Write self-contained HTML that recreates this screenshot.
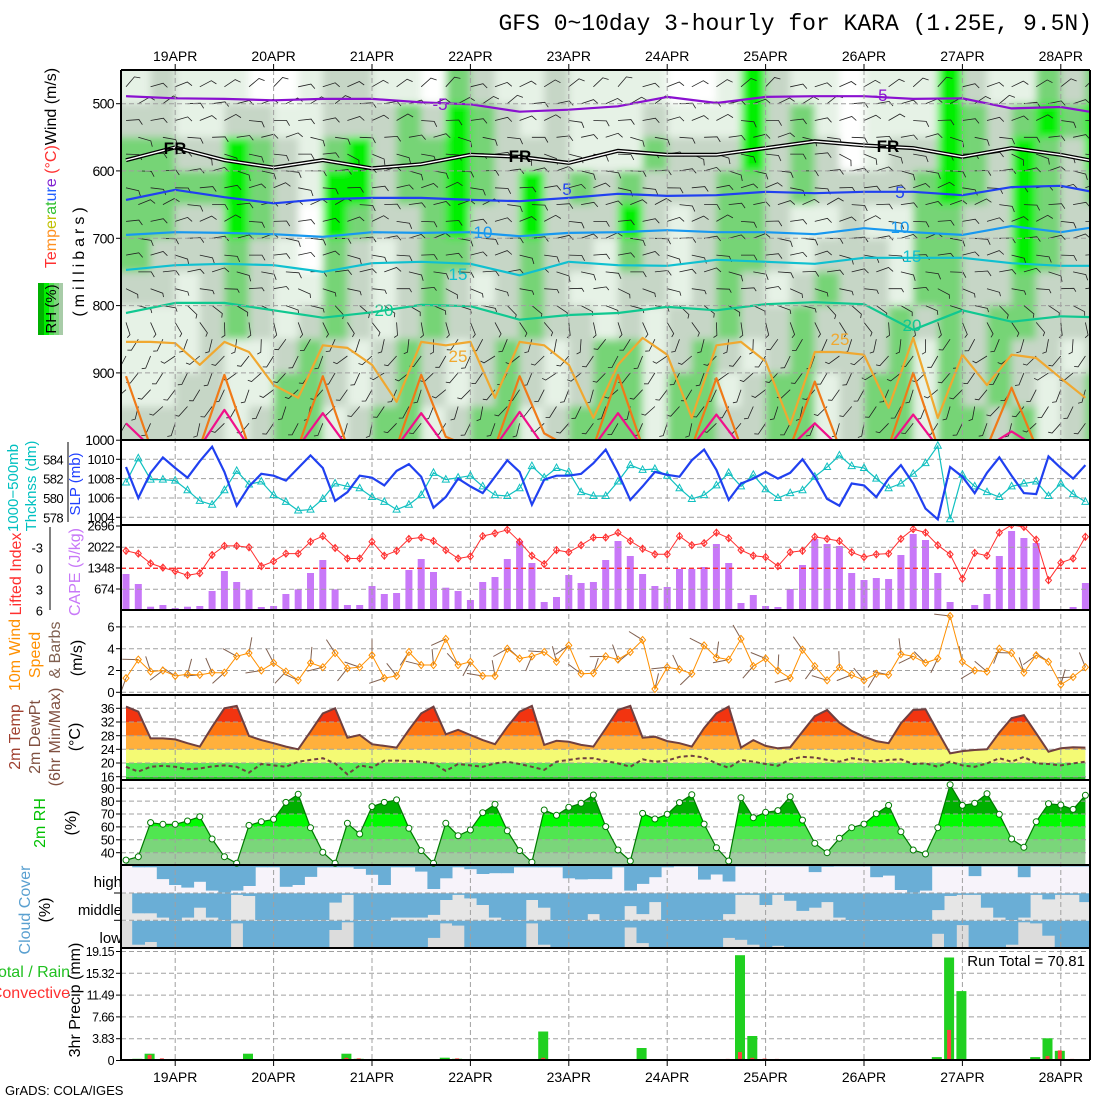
<!DOCTYPE html>
<html><head><meta charset="utf-8"><title>GFS meteogram KARA</title>
<style>
html,body{margin:0;padding:0;background:#fff;}
svg{display:block;font-family:"Liberation Sans",sans-serif;}
</style></head>
<body>
<svg id="chart" width="1100" height="1100" viewBox="0 0 1100 1100" xmlns="http://www.w3.org/2000/svg">
<defs>
 <clipPath id="cTop"><rect x="121" y="70" width="969" height="370"/></clipPath>
 <clipPath id="cSlp"><rect x="121" y="440" width="969" height="85"/></clipPath>
 <clipPath id="cCape"><rect x="121" y="525" width="969" height="85"/></clipPath>
 <clipPath id="cWind"><rect x="121" y="610" width="969" height="85"/></clipPath>
 <clipPath id="cCloud"><rect x="121" y="865" width="969" height="83"/></clipPath>
 <filter id="soft" x="-2%" y="-2%" width="104%" height="104%"><feGaussianBlur stdDeviation="4"/></filter>
</defs>
<rect x="0" y="0" width="1100" height="1100" fill="#fff"/>
<text x="1092" y="30" text-anchor="end" font-family="'Liberation Mono',monospace" font-size="23" fill="#000">GFS 0~10day 3-hourly for KARA (1.25E, 9.5N)</text>

<g id="gTop" clip-path="url(#cTop)"></g>
<g id="gMid"></g>
<g id="gGrid"></g>
<g id="gFront"></g>
<g id="gAxes"></g>

<g>
 <g>
  <rect x="38" y="283" width="6" height="52" fill="#00b000"/>
  <rect x="44" y="283" width="5" height="52" fill="#00f000"/>
  <rect x="49" y="283" width="5" height="52" fill="#50e050"/>
  <rect x="54" y="283" width="5" height="52" fill="#7cd67c"/>
  <rect x="59" y="283" width="4" height="52" fill="#a8cca8"/>
 </g>
 <text transform="translate(56,309) rotate(-90)" text-anchor="middle" font-size="15" fill="#000">RH (%)</text>
 <text transform="translate(56,168) rotate(-90)" text-anchor="middle" font-size="16"><tspan fill="#ff3030">Te</tspan><tspan fill="#ff9020">mp</tspan><tspan fill="#c0c000">er</tspan><tspan fill="#30c030">at</tspan><tspan fill="#2060ff">ur</tspan><tspan fill="#8020d0">e</tspan><tspan fill="#ff3030"> (°C)</tspan><tspan fill="#000">Wind (m/s)</tspan></text>
 <text transform="translate(84,260) rotate(-90)" text-anchor="middle" font-size="16" letter-spacing="4" fill="#000">(millibars)</text>
</g>
<g>
 <text transform="translate(18,488) rotate(-90)" text-anchor="middle" font-size="15" fill="#00c0c0">1000−500mb</text>
 <text transform="translate(36,486) rotate(-90)" text-anchor="middle" font-size="15" fill="#00c0c0">Thcknss (dm)</text>
 <text transform="translate(80,484) rotate(-90)" text-anchor="middle" font-size="15" fill="#2040ff">SLP (mb)</text>
</g>
<g>
 <text transform="translate(21,574) rotate(-90)" text-anchor="middle" font-size="16" fill="#ff3030">Lifted Index</text>
 <text transform="translate(80,572) rotate(-90)" text-anchor="middle" font-size="16" fill="#c878f8">CAPE (J/kg)</text>
</g>
<g>
 <text transform="translate(20,655) rotate(-90)" text-anchor="middle" font-size="16" fill="#ff9000">10m Wind</text>
 <text transform="translate(40,655) rotate(-90)" text-anchor="middle" font-size="16" fill="#ff9000">Speed</text>
 <text transform="translate(60,650) rotate(-90)" text-anchor="middle" font-size="16" fill="#806050">&amp; Barbs</text>
 <text transform="translate(82,658) rotate(-90)" text-anchor="middle" font-size="16" fill="#000">(m/s)</text>
</g>
<g>
 <text transform="translate(20,737) rotate(-90)" text-anchor="middle" font-size="16" fill="#a04030">2m Temp</text>
 <text transform="translate(40,737) rotate(-90)" text-anchor="middle" font-size="16" fill="#805040">2m DewPt</text>
 <text transform="translate(60,737) rotate(-90)" text-anchor="middle" font-size="16" fill="#805040">(6hr Min/Max)</text>
 <text transform="translate(80,737) rotate(-90)" text-anchor="middle" font-size="16" fill="#000">(°C)</text>
</g>
<g>
 <text transform="translate(45,823) rotate(-90)" text-anchor="middle" font-size="16" fill="#00c000">2m RH</text>
 <text transform="translate(76,823) rotate(-90)" text-anchor="middle" font-size="16" fill="#000">(%)</text>
</g>
<g>
 <text transform="translate(30,910) rotate(-90)" text-anchor="middle" font-size="16" fill="#5aa0d0">Cloud Cover</text>
 <text transform="translate(50,910) rotate(-90)" text-anchor="middle" font-size="16" fill="#000">(%)</text>
 <text x="122" y="887" text-anchor="end" font-size="15">high</text>
 <text x="122" y="915" text-anchor="end" font-size="15">middle</text>
 <text x="122" y="943" text-anchor="end" font-size="15">low</text>
</g>
<g>
 <text x="70" y="977" text-anchor="end" font-size="16" fill="#20c020">Total / Rain</text>
 <text x="70" y="998" text-anchor="end" font-size="16" fill="#ff3030">Convective</text>
 <text transform="translate(80,1000) rotate(-90)" text-anchor="middle" font-size="16" fill="#000">3hr Precip (mm)</text>
 <text x="1085" y="966" text-anchor="end" font-size="15" fill="#000">Run Total = 70.81</text>
</g>
<text x="5" y="1095" font-size="13" fill="#000">GrADS: COLA/IGES</text>
</svg>

<script>
// ---------- data (3-hourly, from 18APR 12Z) ----------
const dayLabels = ["19APR","20APR","21APR","22APR","23APR","24APR","25APR","26APR","27APR","28APR"];
const slp = [1009.2,1006.0,1008.6,1010.2,1009.1,1008.1,1009.8,1011.3,1008.7,1005.2,1007.2,1008.5,1008.3,1007.8,1009.1,1010.4,1009.1,1005.7,1006.6,1008.3,1008.1,1007.3,1008.8,1009.5,1008.2,1005.0,1006.1,1008.0,1007.2,1006.5,1008.2,1009.9,1008.7,1005.3,1007.9,1008.3,1008.3,1008.5,1009.6,1011.0,1008.6,1005.8,1007.2,1008.7,1008.4,1008.2,1009.9,1011.0,1008.9,1005.8,1007.5,1008.0,1008.7,1008.0,1008.6,1010.0,1008.2,1005.9,1005.2,1007.5,1007.3,1006.1,1008.0,1009.4,1007.5,1004.9,1003.8,1009.2,1008.2,1006.5,1008.6,1010.2,1008.3,1006.5,1006.4,1010.3,1009.1,1008.0,1009.4];
const thickness = [581.6,584.1,581.9,581.9,581.8,580.8,579.7,579.3,580.8,582.8,581.4,581.7,580.3,579.6,578.7,578.8,579.9,581.5,581.2,581.0,580.1,579.6,578.8,579.3,580.3,582.6,581.9,582.1,582.3,581.2,580.3,580.2,581.0,583.3,582.1,583.1,582.7,580.6,580.2,580.2,581.7,583.4,582.9,583.0,582.3,581.0,579.9,580.3,581.3,582.6,581.2,582.4,580.9,580.0,580.5,580.8,582.2,583.2,584.4,583.3,583.1,582.0,581.0,581.5,582.5,583.6,585.4,577.8,582.4,581.2,580.6,580.1,581.2,581.5,581.7,580.2,581.5,580.4,579.6];
const cape = [1156,835,107,160,64,107,128,610,1252,899,653,96,128,514,663,1188,1605,663,160,160,770,514,546,1284,1637,1220,717,610,321,899,1059,1637,2215,1509,257,417,1124,867,899,1605,2215,1733,1156,770,738,1316,1316,1380,2119,1509,225,482,128,96,674,1445,2279,2119,2054,1188,963,1027,995,1766,2440,2247,1188,257,0,160,514,1733,2536,2311,2151,0,32,96,867];
const liftedIndex = [-2.5,-2.1,-0.7,-0.1,0.4,1.0,0.7,-1.9,-3.2,-3.2,-3.0,-0.3,-1.0,-2.1,-2.1,-3.8,-4.6,-2.9,-1.4,-1.4,-3.8,-1.8,-2.5,-4.2,-4.4,-3.9,-2.6,-1.4,-1.7,-4.6,-5.0,-5.5,-3.8,-1.8,-0.6,-2.6,-2.3,-3.3,-4.4,-4.4,-5.1,-3.9,-2.8,-2.0,-2.0,-4.6,-3.3,-3.6,-5.1,-4.3,-2.6,-1.8,-1.6,-0.3,-2.3,-2.5,-4.5,-4.2,-3.9,-2.3,-1.6,-2.0,-2.1,-4.2,-5.6,-5.1,-3.3,-2.0,1.5,-2.2,-1.8,-5.1,-6.2,-5.9,-4.1,1.7,-0.8,-1.4,-4.5];
const windSpeed = [1.3,3.0,1.9,2.0,1.5,1.65,1.6,1.8,1.8,3.3,3.6,2.0,2.7,1.9,1.1,2.7,2.3,3.6,2.2,2.3,3.4,1.3,1.5,3.7,2.5,2.5,4.9,2.5,2.8,1.5,1.5,4.0,3.1,3.3,3.7,2.8,4.3,1.7,1.75,3.3,3.0,3.7,4.8,0.3,2.3,2.1,1.7,4.3,3.2,3.0,4.9,2.4,3.1,2.0,1.3,3.9,2.4,1.1,2.3,1.6,1.1,1.7,1.6,3.5,3.3,2.7,3.1,7.0,2.8,2.0,1.9,4.0,3.6,1.8,3.4,2.8,0.7,1.4,2.3];
const temp2m = [36.5,35.0,27.2,27.2,26.9,25.8,24.8,30.6,36.0,36.7,27.9,26.7,25.8,24.8,24.0,29.2,34.5,36.0,27.4,28.2,25.5,25.0,24.5,29.7,34.5,36.5,28.4,29.7,28.2,26.7,25.5,30.6,35.0,36.7,25.3,26.5,26.2,25.3,24.8,30.1,35.5,36.7,27.4,27.7,26.4,25.8,24.8,30.2,34.5,36.5,24.5,26.7,25.0,24.3,24.6,29.2,33.7,35.5,31.8,29.4,27.7,26.4,25.8,31.6,35.5,35.7,29.2,22.8,23.5,23.8,24.0,28.9,33.1,34.0,28.7,23.3,24.3,24.6,24.5];
const dewpt2m = [18.9,17.5,18.9,19.2,18.9,18.2,18.4,19.0,19.3,18.9,17.2,19.7,19.3,18.9,20.4,20.9,21.4,19.9,16.7,19.3,18.7,20.7,20.7,20.6,20.4,19.9,17.7,19.7,19.3,18.9,19.9,20.4,19.7,18.9,18.0,20.4,20.9,21.4,21.4,20.6,19.9,18.9,21.1,20.4,20.7,21.8,22.1,21.6,19.9,18.6,20.9,20.4,19.7,19.2,21.1,21.8,21.6,20.9,20.4,21.4,20.9,20.4,20.9,21.1,19.7,19.9,18.9,20.4,19.3,18.9,19.9,21.4,20.4,21.8,19.9,19.7,19.3,19.9,20.4];
const rh2m = [34.3,36.9,63.3,62.0,62.0,64.6,67.9,50.6,36.9,31.8,61.2,64.0,65.9,79.0,85.3,59.4,40.3,31.8,62.8,54.5,75.7,79.0,80.9,58.9,41.6,31.8,62.8,53.2,57.6,71.0,77.5,57.0,41.6,32.6,73.1,69.0,75.2,78.3,84.7,60.2,42.1,33.6,70.5,66.1,69.8,78.8,85.0,62.2,43.9,33.6,82.6,67.1,71.3,72.6,83.4,65.3,47.3,40.0,51.2,59.4,62.2,70.2,76.7,56.3,42.1,39.0,59.4,92.7,76.7,78.3,85.7,69.8,50.6,44.2,64.0,78.0,77.0,73.6,84.5];
const cloudHigh = [0,5,5,49,71,81,59,92,100,92,75,5,5,78,71,41,5,5,5,11,33,71,5,5,21,86,46,5,12,30,27,27,5,5,5,5,46,50,49,49,5,92,67,42,5,2,2,51,32,58,2,2,2,2,2,2,23,3,2,2,2,42,36,90,100,92,2,2,2,38,2,2,2,42,2,2,2,2,2];
const cloudMid = [0,75,75,91,100,91,54,91,100,6,10,100,100,100,100,100,100,35,6,100,100,100,91,91,91,81,25,6,19,44,91,100,100,25,54,100,100,100,78,100,100,48,78,33,100,100,100,100,100,78,6,6,44,6,28,66,54,33,91,100,100,100,100,100,100,100,63,10,6,6,54,91,100,91,6,23,6,6,33];
const cloudLow = [0,88,78,100,100,100,100,100,100,10,100,100,100,100,100,100,100,34,6,100,100,100,100,100,100,63,10,18,100,100,100,100,100,10,88,100,100,100,100,100,100,25,82,100,100,100,100,100,100,63,70,88,100,92,100,100,100,100,100,100,100,100,100,100,100,100,48,100,16,100,100,100,88,6,10,55,100,100,100];
const precipIndex = [1,2,3,10,18,19,26,27,34,42,43,49,50,51,52,53,60,62,66,67,68,73,74,75,76,77];
const precipTotal = [0.3,1.2,0.2,1.2,1.2,0.3,0.5,0.3,5.1,2.2,0.2,0.1,18.5,4.3,0.15,0.1,0.1,0,0.6,18.1,12.2,0,0.6,3.9,1.7,0];
const precipConv = [0,0.8,0.2,0,0.3,0.2,0,0.2,0.3,0,0,0.1,1.3,0.3,0.15,0.1,0,0.05,0.1,5.2,0.1,0.05,0.1,0.6,1.6,0.1];
const rhLevels = [475,525,575,625,675,725,775,825,875,925,975];
const rhRows = [
 "1211100122110321121111001421101114211323",
 "2211221122232432121112111423101114323434",
 "3322432134233432221113222423201224324324",
 "3333432144233432423232223323222234324323",
 "3322432043223422422242123321121133224322",
 "3222321032123322322132123321222133224322",
 "2212321132123212321122123212322133223222",
 "1112321232123222322121223223222323233222",
 "1112112321232123212331232123222313232212",
 "1122113321232123212331331233123313232123",
 "2222123312331233123331332233123313323123"];
const isoM5 = [489,492,493,495,493,493,498,501,512,509,504,490,499,490,489,489,493,492,507,505,517];
const isoFR = [584,565,584,595,584,596,590,576,579,588,570,576,576,566,556,562,566,579,566,576,590];
const iso5 = [643,628,639,648,642,640,640,643,645,640,634,637,636,631,633,631,631,636,624,622,636];
const iso10 = [695,691,692,694,698,691,692,691,697,692,691,688,691,691,694,685,691,695,682,691,680];
const iso15 = [747,740,738,740,750,737,735,738,755,735,740,741,732,735,738,729,729,729,737,741,741];
const iso20 = [811,796,796,807,818,810,799,801,821,814,811,802,807,798,795,798,836,807,824,816,818];
const iso25 = [854,854,856,888,854,869,918,937,859,863,888,943,854,859,854,937,854,859,888,967,888,848,873,967,859,854,883,977,869,869,873,952,848,967,873,918,873,878,908,937];
const iso30 = [905,1010,1010,1010,903,1010,1010,1010,905,1010,1010,1010,903,995,1010,1010,905,990,1010,1010,903,1010,1010,1010,908,1010,1010,1010,913,1010,1010,1010,900,1010,1010,1010,922,1010,1010,1010];
const iso35 = [975,1010,1010,1010,955,1010,1010,1010,960,1010,1010,1010,960,1010,1010,1010,958,1010,1010,1010,960,1010,1010,1010,962,1010,1010,1010,975,1010,1010,1010,962,1010,1010,1010,987,1010,1010,1010];
const barbLevels = [475,500,525,550,575,600,625,650,675,700,725,750,775,800,825,850,875,900,925,950,975];
const barbDir = [60,70,80,90,100,90,85,80,80,85,90,90,100,120,160,200,220,220,215,210,210];
const barbSpd = [8,8,7,7,8,8,9,9,9,8,8,7,6,6,5,5,6,6,5,5,4];
const pTicks = [500,600,700,800,900,1000];
const slpTicks = [1010,1008,1006,1004];
const thkTicks = [584,582,580,578];
const capeTicks = [2696,2022,1348,674];
const liTicks = [-3,0,3,6];
const windTicks = [0,2,4,6];
const tempTicks = [36,32,28,24,20,16];
const rhTicks = [90,80,70,60,50,40];
const precipTicks = [19.15,15.32,11.49,7.66,3.83,0];

const NS = "http://www.w3.org/2000/svg";
const X0 = 126, DX = 12.3, XL = 121, XR = 1090;
function xAt(i){ return X0 + DX*i; }
function xHour(h){ return X0 + h*DX/3; }
function yP(p){ return 70 + (p-450)*0.673; }
function ySlp(v){ return 459.3 - (v-1010)*9.67; }
function yThk(v){ return 459.3 - (v-584)*9.67; }
function yCape(v){ return 610 - v*21/674; }
function yLI(v){ return 568.3 + v*7; }
function yWind(v){ return 692.3 - v*10.9; }
function yT(v){ return 776.7 - (v-16)*3.42; }
function yRH(v){ return 852.7 - (v-40)*1.29; }
function yPr(v){ return 1060.5 - v*5.69; }

function mk(tag, attrs, parent){
  const e = document.createElementNS(NS, tag);
  for (const k in attrs) e.setAttribute(k, attrs[k]);
  parent.appendChild(e);
  return e;
}
function pts(arr, fx, fy){ return arr.map((v,i)=>fx(i).toFixed(1)+","+fy(v).toFixed(1)).join(" "); }

const defs = document.querySelector("#chart defs");
const gTop = document.getElementById("gTop");
const gMid = document.getElementById("gMid");
const gGrid = document.getElementById("gGrid");
const gFront = document.getElementById("gFront");
const gAxes = document.getElementById("gAxes");

// ---------- top cross-section ----------
const rhColors = ["#ffffff","#e6f2e6","#c6d6c6","#76d476","#00f000"];
const heat = mk("g", {filter:"url(#soft)"}, gTop);


rhRows.forEach((row, r)=>{
  const y0 = yP(rhLevels[r]-25), y1 = yP(rhLevels[r]+25);
  for (let j=0;j<row.length;j++){
    const xa = j===0 ? XL-10 : xHour(6*j), xb = xHour(6*(j+1)) + (j===row.length-1?30:0);
    const c = mk("rect", {x:xa.toFixed(1), y:(y0-(r===0?20:0)).toFixed(1), width:(xb-xa+0.6).toFixed(1), height:(y1-y0+(r===0?20:0)+(r===rhRows.length-1?10:0)+0.6).toFixed(1), fill:rhColors[+row[j]]}, heat);
    
    
  }
});
const barbG = mk("g", {stroke:"#222", "stroke-width":"0.8", fill:"none"}, gTop);


barbLevels.forEach((p, r)=>{
  for (let i=0;i<79;i++){
    if ((i + r) % 2 !== 0) continue;
    const d = (barbDir[r] + ((i*37 + r*53) % 40) - 20) * Math.PI/180;
    const L = 13, x = xAt(i), y = yP(p);
    const ex = x + L*Math.sin(d), ey = y - L*Math.cos(d);
    const td = d + Math.PI/3, tl = barbSpd[r] >= 7 ? 6 : 4;
    const b = mk("path", {d:"M"+x.toFixed(1)+","+y.toFixed(1)+"L"+ex.toFixed(1)+","+ey.toFixed(1)+"l"+(tl*Math.sin(td)).toFixed(1)+","+(-tl*Math.cos(td)).toFixed(1)}, barbG);
    
    
  }
});
function isoLine(arr, stepH, color, width, name){
  const d = pts(arr, i=>xHour(stepH*i), yP);
  if (name === 'isotherm-0c') {
    const o = mk("polyline", {points:d, fill:"none", stroke:"#000", "stroke-width":"4"}, gTop);
    
    
    const w = mk("polyline", {points:d, fill:"none", stroke:"#fff", "stroke-width":"1.4"}, gTop);
    
    
    return;
  }
  const l = mk("polyline", {points:d, fill:"none", stroke:color, "stroke-width":width, "stroke-linejoin":"round"}, gTop);
  
  
}
isoLine(iso35, 6, "#f0108a", 2.2, "isotherm-35c");
isoLine(iso30, 6, "#f07a18", 2.2, "isotherm-30c");
isoLine(iso25, 6, "#f0a830", 2.2, "isotherm-25c");
isoLine(iso20, 12, "#10c890", 2.2, "isotherm-20c");
isoLine(iso15, 12, "#10c0d0", 2.2, "isotherm-15c");
isoLine(iso10, 12, "#1898f0", 2.2, "isotherm-10c");
isoLine(iso5, 12, "#2040f0", 2.2, "isotherm-5c");
isoLine(isoFR, 12, "#000", 2, "isotherm-0c");
isoLine(isoM5, 12, "#8a10d0", 2.2, "isotherm-minus5c");
const isoLabels = [["-5",440,110,"#8a10d0"],["-5",880,101,"#8a10d0"],["FR",175,154,"#000"],["FR",520,162,"#000"],["FR",888,152,"#000"],["5",567,195,"#2040f0"],["5",900,198,"#2040f0"],["10",483,238,"#1898f0"],["10",900,233,"#1898f0"],["15",458,280,"#10c0d0"],["15",912,262,"#10c0d0"],["20",384,316,"#10c890"],["20",912,331,"#10c890"],["25",458,362,"#f0a830"],["25",840,345,"#f0a830"]];
isoLabels.forEach(l=>{
  const t = mk("text", {x:l[1], y:l[2], "text-anchor":"middle", "font-size":"17", fill:l[3], "font-weight":l[0]==="FR"?"bold":"normal"}, gTop);
  t.textContent = l[0];
  
  
});

// ---------- SLP panel ----------
const thkLine = mk("polyline", {points:pts(thickness, xAt, yThk), fill:"none", stroke:"#10c0c0", "stroke-width":"1.2"}, gFront);


thickness.forEach((v,i)=>{
  const x = xAt(i), y = yThk(v);
  const m = mk("path", {d:"M"+x+","+(y-4)+"L"+(x+3.5)+","+(y+2.5)+"L"+(x-3.5)+","+(y+2.5)+"Z", fill:"none", stroke:"#10c0c0", "stroke-width":"1"}, gFront);
  
  
});
const slpLine = mk("polyline", {points:pts(slp, xAt, ySlp), fill:"none", stroke:"#2040f0", "stroke-width":"2.2"}, gFront);



// ---------- CAPE / LI ----------
cape.forEach((v,i)=>{
  const y = yCape(v);
  const b = mk("rect", {x:(xAt(i)-3.5).toFixed(1), y:y.toFixed(1), width:"7", height:(610-y).toFixed(1), fill:"#c878f8"}, gMid);
  
  
});
const li0 = mk("line", {x1:XL, x2:XR, y1:yLI(0), y2:yLI(0), stroke:"#ff3030", "stroke-width":"1.3", "stroke-dasharray":"5,3"}, gFront);


const liG = mk("g", {"clip-path":"url(#cCape)"}, gFront);


const liLine = mk("polyline", {points:pts(liftedIndex, xAt, yLI), fill:"none", stroke:"#ff3030", "stroke-width":"1"}, liG);


liftedIndex.forEach((v,i)=>{
  const x = xAt(i), y = yLI(v);
  const m = mk("path", {d:"M"+x+","+(y-3.5)+"L"+(x+3)+","+y+"L"+x+","+(y+3.5)+"L"+(x-3)+","+y+"ZM"+x+","+(y-3.5)+"V"+(y+3.5), fill:"none", stroke:"#ff3030", "stroke-width":"1"}, liG);
  
  
});

// ---------- 10m wind ----------
const wG = mk("g", {"clip-path":"url(#cWind)"}, gFront);


windSpeed.forEach((v,i)=>{
  const x = xAt(i), y = yWind(v);
  const d = ((i*71) % 180 + 200) * Math.PI/180;
  const b = mk("line", {x1:x, y1:y, x2:(x+16*Math.sin(d)).toFixed(1), y2:(y-16*Math.cos(d)).toFixed(1), stroke:"#806050", "stroke-width":"1"}, wG);
  
  
});
const wLine = mk("polyline", {points:pts(windSpeed, xAt, yWind), fill:"none", stroke:"#ff9000", "stroke-width":"1"}, wG);


windSpeed.forEach((v,i)=>{
  const x = xAt(i), y = yWind(v);
  const m = mk("path", {d:"M"+x+","+(y-3.5)+"L"+(x+3)+","+y+"L"+x+","+(y+3.5)+"L"+(x-3)+","+y+"Z", fill:"none", stroke:"#ff9000", "stroke-width":"1"}, wG);
  
  
});

// ---------- temperature ----------
const tArea = "M" + xAt(0) + ",780 L" + pts(temp2m, xAt, yT).split(" ").join(" L") + " L" + xAt(78) + ",780 Z";
const cTemp = mk("clipPath", {id:"cTemp"}, defs);
mk("path", {d:tArea}, cTemp);
const tBands = [[-99,16,"#20c020"],[16,20,"#52ee52"],[20,24,"#f4fa74"],[24,28,"#ffb03c"],[28,32,"#ff7410"],[32,99,"#f23410"]];
const tG = mk("g", {"clip-path":"url(#cTemp)"}, gMid);


tBands.forEach(b=>{
  const y1 = Math.min(780, yT(b[0])), y0 = Math.max(695, yT(b[1]));
  const r = mk("rect", {x:XL, y:y0.toFixed(1), width:XR-XL, height:(y1-y0).toFixed(1), fill:b[2]}, tG);
  
  
});
const tLine = mk("polyline", {points:pts(temp2m, xAt, yT), fill:"none", stroke:"#704040", "stroke-width":"2"}, gFront);


const dLine = mk("polyline", {points:pts(dewpt2m, xAt, yT), fill:"none", stroke:"#704040", "stroke-width":"2", "stroke-dasharray":"4,3"}, gFront);



// ---------- 2m RH ----------
const rArea = "M" + xAt(0) + ",865 L" + pts(rh2m, xAt, yRH).split(" ").join(" L") + " L" + xAt(78) + ",865 Z";
const cRH = mk("clipPath", {id:"cRH"}, defs);
mk("path", {d:rArea}, cRH);
const rhBands = [[0,40,"#a0cca0"],[40,50,"#7ad67a"],[50,60,"#50e650"],[60,70,"#00fa00"],[70,101,"#00b000"]];
const rG = mk("g", {"clip-path":"url(#cRH)"}, gMid);


rhBands.forEach(b=>{
  const y1 = Math.min(865, yRH(b[0])), y0 = Math.max(780, yRH(b[1]));
  const r = mk("rect", {x:XL, y:y0.toFixed(1), width:XR-XL, height:(y1-y0).toFixed(1), fill:b[2]}, rG);
  
  
});
const rLine = mk("polyline", {points:pts(rh2m, xAt, yRH), fill:"none", stroke:"#007a00", "stroke-width":"1.2"}, gFront);


rh2m.forEach((v,i)=>{
  const c = mk("circle", {cx:xAt(i), cy:Math.max(783,yRH(v)).toFixed(1), r:"3", fill:"#fff", stroke:"#007a00", "stroke-width":"1"}, gFront);
  
  
});

// ---------- cloud cover ----------
const cloudRows = [[cloudHigh,866,892.7,"#f7f3fa"],[cloudMid,893.3,920,"#e6e6e6"],[cloudLow,920.7,948,"#dcdcdc"]];
const cG = mk("g", {"clip-path":"url(#cCloud)"}, gMid);


cloudRows.forEach(row=>{
  const bg = mk("rect", {x:XL, y:row[1], width:XR-XL, height:(row[2]-row[1]).toFixed(1), fill:row[3]}, cG);
  
  
  row[0].forEach((v,i)=>{
    if (i===0) return;
    const h = (row[2]-row[1])*v/100;
    const r = mk("rect", {x:(xAt(i-0.5)).toFixed(1), y:row[1], width:(DX+0.5).toFixed(1), height:h.toFixed(1), fill:"#6aaed6"}, cG);
    
    
  });
});

// ---------- precip ----------
precipIndex.forEach((idx,k)=>{
  const x = xAt(idx) - 1;
  if (precipTotal[k] > 0) {
    const y = yPr(precipTotal[k]);
    const b = mk("rect", {x:(x-5).toFixed(1), y:y.toFixed(1), width:"10", height:(1060.5-y+0.5).toFixed(1), fill:"#20d020"}, gFront);
    
    
  }
  if (precipConv[k] > 0) {
    const y = yPr(precipConv[k]) - 1;
    const b = mk("rect", {x:(x-2).toFixed(1), y:y.toFixed(1), width:"4", height:(1060.5-y).toFixed(1), fill:"#ff4040"}, gFront);
    
    
  }
});

// ---------- grid ----------
function hGrid(y, name){
  const l = mk("line", {x1:XL, x2:XR, y1:y.toFixed(1), y2:y.toFixed(1), stroke:"#a0a0a0", "stroke-width":"1", "stroke-dasharray":"5,3"}, gGrid);
  
  
}
dayLabels.forEach((lab,k)=>{
  const x = xHour(12 + 24*k);
  const l = mk("line", {x1:x.toFixed(1), x2:x.toFixed(1), y1:70, y2:1060, stroke:"#a0a0a0", "stroke-width":"1", "stroke-dasharray":"5,3"}, gGrid);
  
  
  const t1 = mk("text", {x:x.toFixed(1), y:"61", "text-anchor":"middle", "font-size":"14"}, gAxes);
  t1.textContent = lab;
  
  
  const t2 = mk("text", {x:x.toFixed(1), y:"1082", "text-anchor":"middle", "font-size":"14"}, gAxes);
  t2.textContent = lab;
  
  
  const tk1 = mk("line", {x1:x.toFixed(1), x2:x.toFixed(1), y1:64, y2:70, stroke:"#000"}, gAxes);
  
  
  const tk2 = mk("line", {x1:x.toFixed(1), x2:x.toFixed(1), y1:1060, y2:1066, stroke:"#000"}, gAxes);
  
  
});
pTicks.slice(0,5).forEach(p=>hGrid(yP(p), 'pressure-gridline'));
slpTicks.forEach(v=>hGrid(ySlp(v), 'slp-gridline'));
liTicks.slice(0,3).forEach(v=>hGrid(yLI(v), 'cape-gridline'));
windTicks.forEach(v=>hGrid(yWind(v), 'wind-gridline'));
tempTicks.forEach(v=>hGrid(yT(v), 'temp-gridline'));
rhTicks.forEach(v=>hGrid(yRH(v), 'rh2m-gridline'));
[893,920.3].forEach(v=>hGrid(v, 'cloud-gridline'));
precipTicks.slice(0,5).forEach(v=>hGrid(yPr(v), 'precip-gridline'));

// ---------- axes ----------
function tickLabel(txt, xr, y, size, color, name){
  const t = mk("text", {x:xr, y:(y+size*0.36).toFixed(1), "text-anchor":"end", "font-size":size, fill:color, "letter-spacing":"-0.6"}, gAxes);
  t.textContent = txt;
  
  
  const k = mk("line", {x1:xr+2, x2:XL, y1:y.toFixed(1), y2:y.toFixed(1), stroke:"#000", "stroke-width":"1"}, gAxes);
  
  
}
pTicks.forEach(p=>tickLabel(String(p), 114, yP(p), 14, "#000", 'pressure-tick-label'));
slpTicks.forEach(v=>tickLabel(String(v), 114, ySlp(v), 13, "#000", 'slp-tick-label'));
thkTicks.forEach(v=>{
  const t = mk("text", {x:63, y:(yThk(v)+5).toFixed(1), "text-anchor":"end", "font-size":"13", "letter-spacing":"-0.6", fill:"#000"}, gAxes);
  t.textContent = String(v);
  
  
});
const thkAxis = mk("line", {x1:68, x2:68, y1:442, y2:522, stroke:"#000"}, gAxes);


capeTicks.forEach(v=>tickLabel(String(v), 114, yCape(v), 13, "#000", 'cape-tick-label'));
liTicks.forEach(v=>{
  const t = mk("text", {x:43, y:(yLI(v)+5).toFixed(1), "text-anchor":"end", "font-size":"13", fill:"#000"}, gAxes);
  t.textContent = String(v);
  
  
});
const liAxis = mk("line", {x1:50, x2:50, y1:527, y2:610, stroke:"#000"}, gAxes);


windTicks.forEach(v=>tickLabel(String(v), 114, yWind(v), 13, "#000", 'wind-tick-label'));
tempTicks.forEach(v=>tickLabel(String(v), 114, yT(v), 13, "#000", 'temp-tick-label'));
rhTicks.forEach(v=>tickLabel(String(v), 114, yRH(v), 13, "#000", 'rh2m-tick-label'));
precipTicks.forEach(v=>tickLabel(v===0?"0":v.toFixed(2), 114, yPr(v), 12.5, "#000", 'precip-tick-label'));
[893,920.3].forEach(v=>{
  const k = mk("line", {x1:114, x2:XL, y1:v, y2:v, stroke:"#000"}, gAxes);
  
  
});
[70,440,525,610,695,780,865,948,1060].forEach(y=>{
  const l = mk("line", {x1:XL, x2:XR, y1:y, y2:y, stroke:"#000", "stroke-width":"2"}, gAxes);
  
  
});
[XL, XR].forEach(x=>{
  const l = mk("line", {x1:x, x2:x, y1:70, y2:1060, stroke:"#000", "stroke-width":"2"}, gAxes);
  
  
});
</script>
</body></html>
